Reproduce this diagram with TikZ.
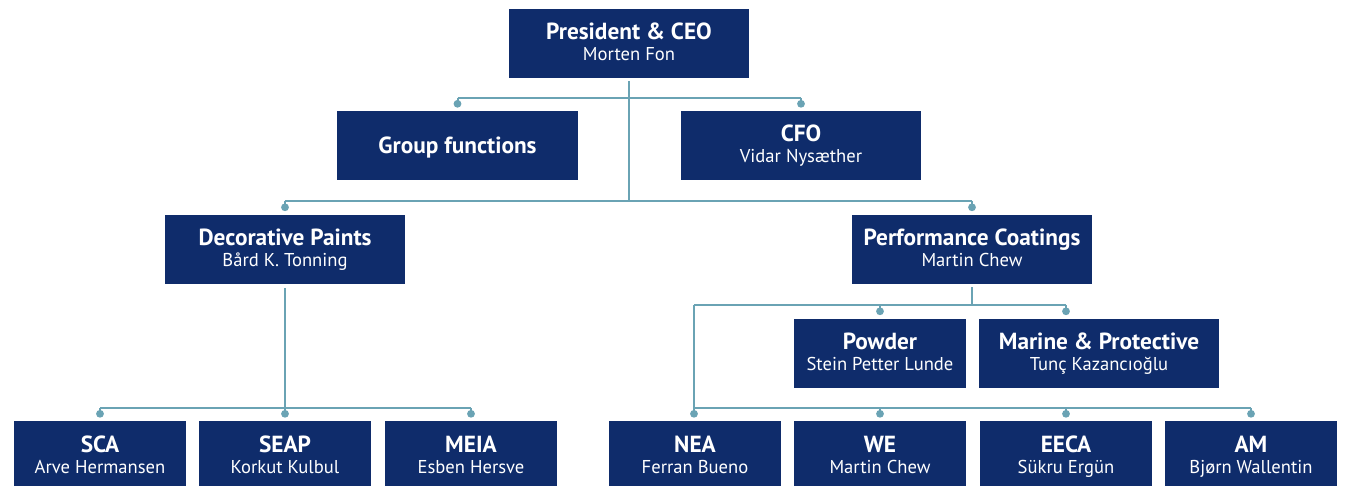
\documentclass[tikz,border=0pt]{standalone}
\usepackage{fontspec}
\setmainfont{PT Sans}
\definecolor{navy}{HTML}{0F2C6B}
\definecolor{lineteal}{HTML}{6AA3B4}
\newcommand\tfont{\fontsize{23.3}{27}\selectfont\bfseries}
\newcommand\nfont{\fontsize{18.6}{22}\selectfont}
\tikzset{
  orgbox/.style={fill=navy, draw=none, minimum height=69pt, inner sep=0pt},
  ttl/.style={text=white, inner sep=0pt, font=\tfont},
  nm/.style={text=white, inner sep=0pt, font=\nfont},
  conn/.style={draw=lineteal, line width=2pt},
  dot/.style={fill=lineteal}
}
% name, cx, cy, width, title, person
\newcommand\orgunit[6]{%
  \node[orgbox, minimum width=#4pt] (#1) at (#2,#3) {};
  \node[ttl, anchor=base] (#1-t) at (#2,#3-4) {#5};
  \node[nm, anchor=base] (#1-n) at (#2,#3+17) {#6};
}
% box, line coordinate, xshift
\newcommand\drop[3]{%
  \draw[conn] ([xshift=#3pt]#1.north |- #2) -- ([xshift=#3pt,yshift=7.5pt]#1.north);
  \fill[dot] ([xshift=#3pt,yshift=7.5pt]#1.north) circle (3.9pt);
}
\begin{document}
\begin{tikzpicture}[x=1pt,y=-1pt]
\useasboundingbox (0,0) rectangle (1345,486);
% boxes
\orgunit{ceo}{629}{43.5}{240}{President \& CEO}{Morten Fon}
\node[orgbox, minimum width=241pt] (gf) at (457.5,146) {};
\node[ttl, anchor=base] (gf-t) at (457.5,153.5) {Group functions};
\orgunit{cfo}{801}{146}{240}{CFO}{Vidar Nysæther}
\orgunit{dp}{285}{249.5}{240}{Decorative Paints}{Bård K. Tonning}
\orgunit{pc}{972}{249.5}{240}{Performance Coatings}{Martin Chew}
\orgunit{pow}{880}{353.5}{172}{Powder}{Stein Petter Lunde}
\orgunit{mp}{1099}{353.5}{240}{Marine \& Protective}{Tunç Kazancıoğlu}
\orgunit{sca}{100}{456}{172}{SCA}{Arve Hermansen}
\orgunit{seap}{285}{456}{172}{SEAP}{Korkut Kulbul}
\orgunit{meia}{471}{456}{172}{MEIA}{Esben Hersve}
\orgunit{nea}{695}{456}{172}{NEA}{Ferran Bueno}
\orgunit{we}{880}{456}{172}{WE}{Martin Chew}
\orgunit{eeca}{1066}{456}{172}{EECA}{Sükru Ergün}
\orgunit{am}{1251}{456}{172}{AM}{Bjørn Wallentin}
% junction coordinates
\coordinate (l1) at (629,98);
\coordinate (l2) at (629,201);
\coordinate (l3) at (285,408);
\coordinate (l4) at (972,305);
\coordinate (l5) at (694,305);
\coordinate (l6) at (694,408);
% CEO level
\draw[conn] ([yshift=-3pt]ceo.south) -- (l2);
\draw[conn] (gf.north |- l1) -- (cfo.north |- l1);
\drop{gf}{l1}{0}
\drop{cfo}{l1}{0}
\draw[conn] (dp.north |- l2) -- (pc.north |- l2);
\drop{dp}{l2}{0}
\drop{pc}{l2}{0}
% Decorative Paints
\draw[conn] ([yshift=-4pt]dp.south) -- (l3);
\draw[conn] (sca.north |- l3) -- (meia.north |- l3);
\drop{sca}{l3}{0}
\drop{seap}{l3}{0}
\drop{meia}{l3}{0}
% Performance Coatings
\draw[conn] ([yshift=-3pt]pc.south) -- (l4);
\draw[conn] (l5) -- ([xshift=-33pt]mp.north |- l4);
\drop{pow}{l4}{0}
\drop{mp}{l4}{-33}
\draw[conn] (l5) -- (l6) -- (am.north |- l6);
\drop{nea}{l6}{-1}
\drop{we}{l6}{0}
\drop{eeca}{l6}{0}
\drop{am}{l6}{0}
\end{tikzpicture}
\end{document}
